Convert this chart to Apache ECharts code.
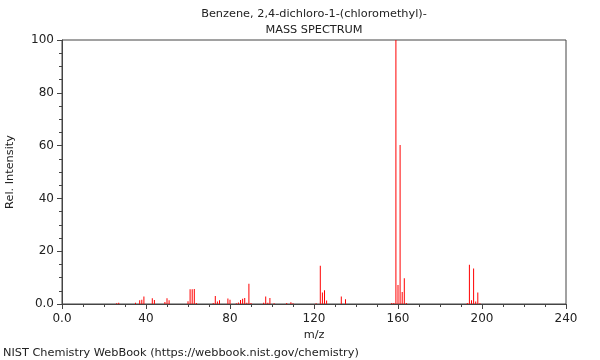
<!DOCTYPE html>
<html>
<head>
<meta charset="utf-8">
<script src="https://cdn.jsdelivr.net/npm/echarts@6/dist/echarts.min.js"></script>
<style>html,body{margin:0;padding:0;background:#fff;}#c{width:600px;height:360px;}</style>
</head>
<body>
<div id="c"></div>
<script>
const titleText = 'Benzene, 2,4-dichloro-1-(chloromethyl)-';
const subTitleText = 'MASS SPECTRUM';
const footerText = 'NIST Chemistry WebBook (https://webbook.nist.gov/chemistry)';
const xTicks = [0, 40, 80, 120, 160, 200, 240];
const yTicks = [0, 20, 40, 60, 80, 100];
const mz = [26, 27, 35, 37, 38, 39, 43, 44, 49, 50, 51, 60, 61, 62, 63, 64, 72, 73, 74, 75, 79, 80, 83, 84, 85, 86, 87, 88, 89, 90, 96, 97, 98, 99, 101, 107, 109, 110, 121, 123, 124, 125, 126, 133, 135, 157, 158, 159, 160, 161, 162, 163, 164, 193, 194, 195, 196, 197, 198, 199];
const intensity = [0.3, 0.5, 0.5, 1.4, 1.6, 2.8, 2.2, 1.5, 0.8, 2.2, 1.4, 1.0, 5.6, 5.6, 5.7, 0.4, 0.4, 3.0, 0.9, 1.4, 2.1, 1.6, 0.3, 0.6, 1.5, 2.0, 2.3, 0.5, 7.7, 0.4, 0.5, 2.8, 0.5, 2.3, 0.3, 0.4, 0.7, 0.3, 0.3, 14.5, 4.4, 5.2, 1.3, 2.8, 1.8, 0.4, 0.4, 100, 7.2, 60.2, 4.5, 9.8, 0.4, 0.4, 14.9, 1.4, 13.4, 0.9, 4.4, 0.3];

const peaks = mz.map((m, i) => [m, intensity[i]]);
const font = 'DejaVu Sans';
const fmt = v => (v === 0 ? '0.0' : String(v));
const txt = (t, x, y, align) => ({
  type: 'text', x: x, y: y, silent: true,
  style: {text: t, fill: '#222', font: '11.3px "DejaVu Sans"', textAlign: align, textVerticalAlign: 'middle'}
});

const chart = echarts.init(document.getElementById('c'), null, {renderer: 'canvas'});
chart.setOption({
  animation: false,
  backgroundColor: '#fff',
  graphic: [
    txt(titleText, 314, 14, 'center'),
    txt(subTitleText, 314, 30, 'center'),
    txt(footerText, 3, 353, 'left')
  ],
  grid: {left: 62, right: 34, top: 40, bottom: 56, outerBoundsMode: 'none', containLabel: false,
         show: true, borderColor: '#444', borderWidth: 1, backgroundColor: 'transparent'},
  xAxis: {
    type: 'value', min: xTicks[0], max: xTicks[xTicks.length - 1], interval: 40,
    name: 'm/z', nameLocation: 'middle', nameGap: 25,
    nameTextStyle: {fontFamily: font, fontSize: 11.3, color: '#222'},
    axisLine: {show: true, lineStyle: {color: '#444'}},
    axisTick: {show: true, length: 5, lineStyle: {color: '#444'}},
    minorTick: {show: true, splitNumber: 4, length: 3, lineStyle: {color: '#444'}},
    splitLine: {show: false},
    axisLabel: {fontFamily: font, fontSize: 12, color: '#222', margin: 9, formatter: fmt}
  },
  yAxis: {
    type: 'value', min: yTicks[0], max: yTicks[yTicks.length - 1], interval: 20,
    name: 'Rel. Intensity', nameLocation: 'middle', nameGap: 46,
    nameTextStyle: {fontFamily: font, fontSize: 11.3, color: '#222'},
    axisLine: {show: true, lineStyle: {color: '#444'}},
    axisTick: {show: true, length: 5, lineStyle: {color: '#444'}},
    minorTick: {show: true, splitNumber: 4, length: 3, lineStyle: {color: '#444'}},
    splitLine: {show: false},
    axisLabel: {fontFamily: font, fontSize: 12, color: '#222', margin: 8, formatter: fmt}
  },
  series: [{
    type: 'bar',
    data: peaks,
    barWidth: 1,
    itemStyle: {color: '#ff0000'},
    silent: true
  }]
});
</script>
</body>
</html>
